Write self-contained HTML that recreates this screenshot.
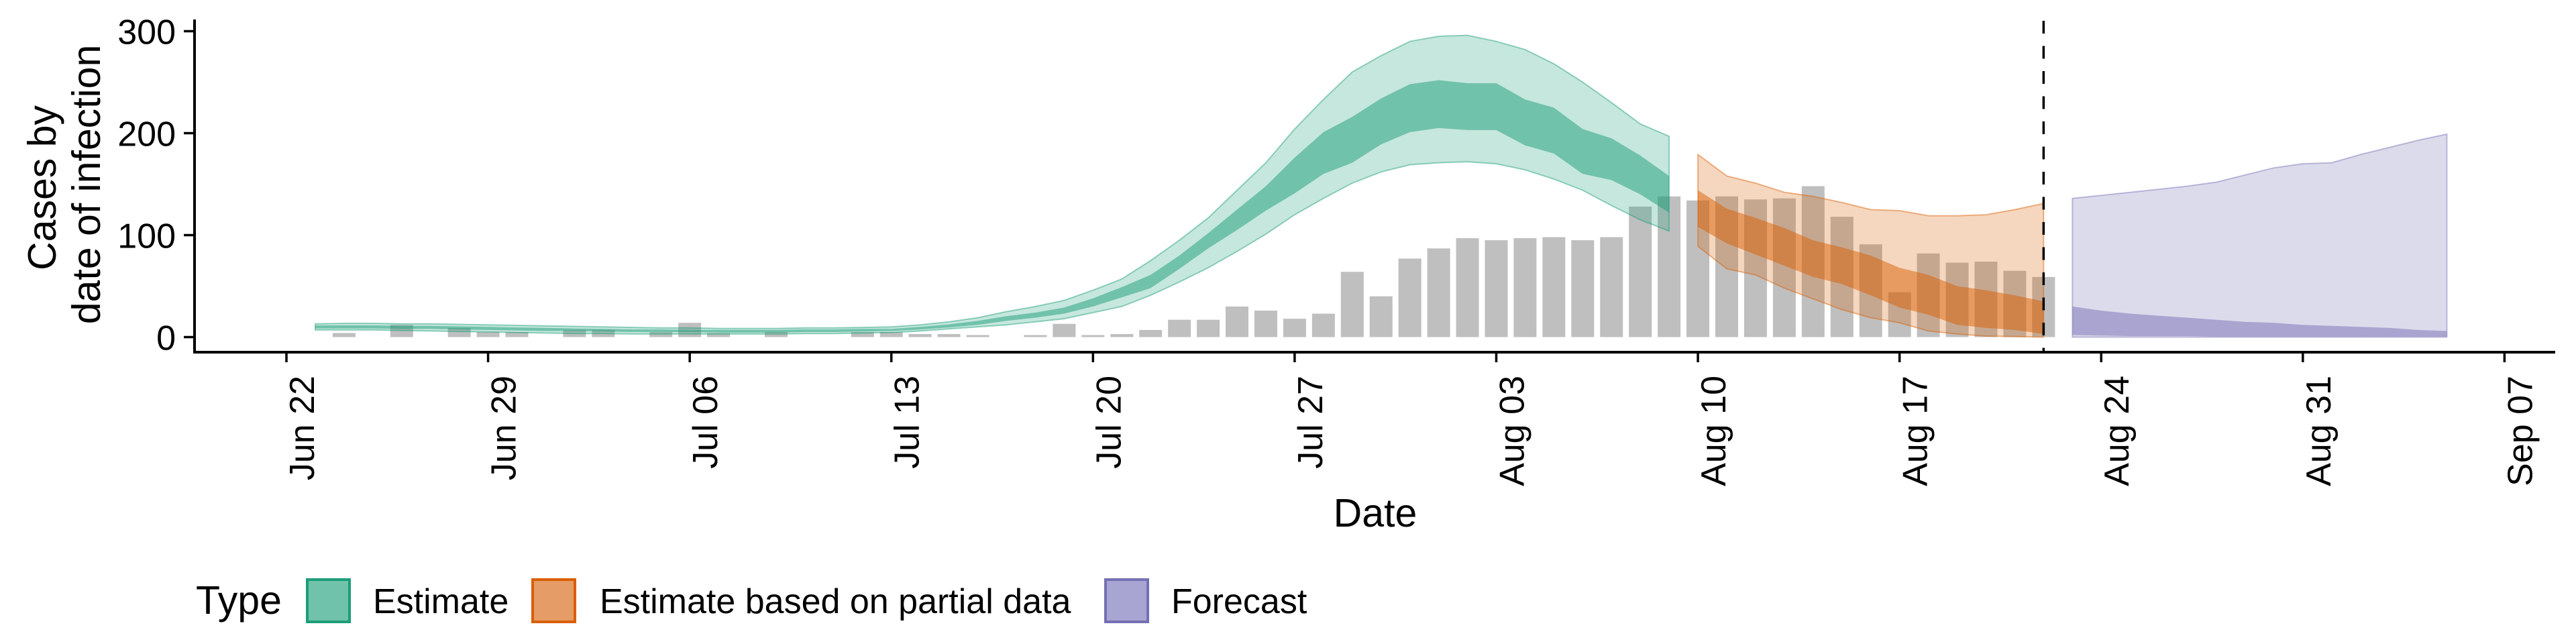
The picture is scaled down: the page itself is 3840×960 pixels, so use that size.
<!DOCTYPE html>
<html><head><meta charset="utf-8">
<style>
html,body{margin:0;padding:0;background:#fff;}
svg{display:block;font-family:"Liberation Sans",Arial,sans-serif;}
</style></head>
<body>
<svg id="chart" width="3840" height="960" viewBox="0 0 3840 960" xmlns="http://www.w3.org/2000/svg">
<rect width="3840" height="960" fill="#fff"/>
<g id="bars"></g>
<g id="ribbons"></g>
<g id="axes"></g>
<g id="legend"></g>
</svg>
<script>
const barValues = [0,0,4,0,12,0,9,5,5,0,7,7,0,5,14,4,0,5,0,0,5,5,3,3,2,0,2,13,2,3,7,17,17,30,26,18,23,64,40,77,87,97,95,97,98,95,98,128,138,134,138,135,136,148,118,91,44,82,73,74,65,59];
const estStart = 1;
const estUpper90 = [13,13.5,13.5,13,13,12.5,12,11.5,11,10.5,10,9.5,9,9,8.5,8.5,8.5,9,9,9.5,10,12,15,19,25,30,36,46,57,75,95,117,144,171,204,233,260,276,290,295,296,290,282,268,250,230,209,197];
const estUpper50 = [11.5,11.5,11.5,11,11,10.5,10,9.5,9,8.5,8,7.5,7.5,7,7,7,7,7.5,7.5,8,8,10,12.5,16,20.5,24,29,38,49,61,80,102,125,148,176,201,216,234,248,252,249,249,233,225,204,195,178,158];
const estLower50 = [8.5,8.5,8.5,8,8,7.5,7,6.5,6,6,5.5,5,5,5,4.5,4.5,4.5,5,5,5.5,6,7.5,9.5,12,16,19,23,30,39,48,67,87,105,124,141,160,171,189,201,205,203,203,188,180,160,154,140,122];
const estLower90 = [7,7,7,6.5,6,5.5,5,4.5,4,3.5,3.5,3,3,3,3,3,3,3.5,3.5,4,4.5,6,8,10,12,15,18,24,30,41,54,68,84,101,120,136,151,162,169,171,172,170,164,155,144,129,115,104];
const partStart = 49;
const partUpper90 = [179,158,151,142,138,132,125,124,119,119,120,125,131];
const partUpper50 = [144,126,117,107,95,88,80,68,61,50,46,41,35];
const partLower50 = [108,92,81,70,59,52,41,29,22,12,9,7,3];
const partLower90 = [89,67,61,48,37.5,27,19,14,6,3,1,0.5,0];
const fcStart = 62;
const fcUpper90 = [136,139,142,145,148,152,159,166,170,171,179,186,193,199];
const fcUpper50 = [30,26,23,21,19,17,15,14,12,11,10,9,7,6];
const fcLower50 = [2,1.5,1,1,1,0.5,0.5,0.5,0.5,0.5,0.5,0.5,0.5,0.5];
const fcLower90 = [0,0,0,0,0,0,0,0,0,0,0,0,0,0];
const yTicks = [0,100,200,300];
const xTickDays = [0,7,14,21,28,35,42,49,56,63,70,77];
const xTickLabels = ["Jun 22","Jun 29","Jul 06","Jul 13","Jul 20","Jul 27","Aug 03","Aug 10","Aug 17","Aug 24","Aug 31","Sep 07"];
const forecastDay = 61;

const NS = "http://www.w3.org/2000/svg";
const X0 = 427, DAY = 42.94, Y0 = 502.5, YPER = 1.52;
const xs = d => X0 + d*DAY;
const ys = v => Y0 - v*YPER;
function mk(tag, attrs, parent){const e=document.createElementNS(NS,tag);for(const k in attrs)e.setAttribute(k,attrs[k]);parent.appendChild(e);return e;}

const gb = document.getElementById('bars');
barValues.forEach((v,i)=>{
  if(v<=0) return;
  const r = mk('rect',{x:xs(i)-17,y:ys(v),width:34,height:Y0-ys(v),fill:'#bfbfbf'},gb);
  
  
});

const gr = document.getElementById('ribbons');
function band(start, up, lo, color, op, stroke, name){
  let d='';
  up.forEach((v,i)=>{d+=(i?'L':'M')+xs(start+i).toFixed(1)+','+ys(v).toFixed(1);});
  for(let i=lo.length-1;i>=0;i--) d+='L'+xs(start+i).toFixed(1)+','+ys(lo[i]).toFixed(1);
  d+='Z';
  const p = mk('path',{d:d,fill:color,'fill-opacity':op},gr);
  if(stroke){p.setAttribute('stroke',color);p.setAttribute('stroke-opacity','0.45');p.setAttribute('stroke-width','2');}
  
  
}
band(estStart, estUpper90, estLower90, '#1b9e77', 0.25, true, 'estimate-90-band');
band(estStart, estUpper50, estLower50, '#1b9e77', 0.5, false, 'estimate-50-band');
band(partStart, partUpper90, partLower90, '#d95f02', 0.25, true, 'partial-90-band');
band(partStart, partUpper50, partLower50, '#d95f02', 0.5, false, 'partial-50-band');
band(fcStart, fcUpper90, fcLower90, '#7570b3', 0.25, true, 'forecast-90-band');
band(fcStart, fcUpper50, fcLower50, '#7570b3', 0.5, false, 'forecast-50-band');

const ga = document.getElementById('axes');
const dl = mk('line',{x1:xs(forecastDay),x2:xs(forecastDay),y1:31,y2:525,stroke:'#000','stroke-width':3.5,'stroke-dasharray':'19 18.5'},ga);


const ya = mk('line',{x1:290,x2:290,y1:29,y2:527,stroke:'#000','stroke-width':4},ga);


const xa = mk('line',{x1:288,x2:3809,y1:525,y2:525,stroke:'#000','stroke-width':4},ga);


yTicks.forEach(v=>{
  const t = mk('line',{x1:274,x2:290,y1:ys(v),y2:ys(v),stroke:'#000','stroke-width':3.5},ga);
  
  
  const l = mk('text',{x:262,y:ys(v)+19,'text-anchor':'end','font-size':52,fill:'#000'},ga);
  l.textContent = v;
  
  
});
xTickDays.forEach((d,i)=>{
  const t = mk('line',{x1:xs(d),x2:xs(d),y1:525,y2:540,stroke:'#000','stroke-width':3.5},ga);
  
  
  const l = mk('text',{transform:'translate('+(xs(d)+41).toFixed(1)+',560) rotate(-90)','text-anchor':'end','font-size':52,fill:'#000'},ga);
  l.textContent = xTickLabels[i];
  
  
});
const xt = mk('text',{x:2050,y:785,'text-anchor':'middle','font-size':59,fill:'#000'},ga);
xt.textContent='Date';


const yt1 = mk('text',{transform:'translate(83,280) rotate(-90)','text-anchor':'middle','font-size':59,fill:'#000'},ga);
yt1.textContent='Cases by';


const yt2 = mk('text',{transform:'translate(149,275) rotate(-90)','text-anchor':'middle','font-size':59,fill:'#000'},ga);
yt2.textContent='date of infection';



const gl = document.getElementById('legend');
const lt = mk('text',{x:292,y:915,'font-size':59,fill:'#000'},gl);
lt.textContent='Type';


const legendLabels = ["Estimate","Estimate based on partial data","Forecast"];
const legendColors = ['#1b9e77','#d95f02','#7570b3'];
const legendFills = ['#70c2aa','#e69c67','#a8a5d2'];
const keyX = [458,794,1648];
const textX = [556,894,1746];
legendLabels.forEach((s,i)=>{
  const r = mk('rect',{x:keyX[i],y:864,width:63,height:63,fill:legendFills[i],stroke:legendColors[i],'stroke-width':4},gl);
  
  
  const t = mk('text',{x:textX[i],y:914,'font-size':52,fill:'#000'},gl);
  t.textContent = s;
  
  
});
</script>
</body></html>
